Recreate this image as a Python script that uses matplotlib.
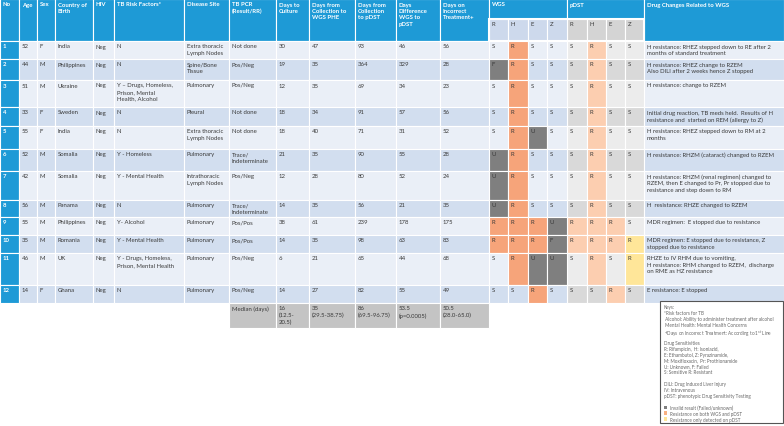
import matplotlib.pyplot as plt
from matplotlib.patches import Rectangle

plt.rcParams['font.family'] = ['Lato', 'DejaVu Sans']

# table data
headers = ["No", "Age", "Sex", "Country of\nBirth", "HIV", "TB Risk Factors*", "Disease Site",
           "TB PCR\n(Result/RR)", "Days to\nCulture", "Days from\nCollection to\nWGS PHE",
           "Days from\nCollection\nto pDST", "Days\nDifference\nWGS to\npDST",
           "Days on\nIncorrect\nTreatment+"]
drugs = ["R", "H", "E", "Z"]
ages = [52, 44, 51, 33, 55, 52, 42, 56, 55, 35, 46, 14]
sexes = ["F", "M", "M", "F", "F", "M", "M", "M", "M", "M", "M", "F"]
countries = ["India", "Philippines", "Ukraine", "Sweden", "India", "Somalia", "Somalia",
             "Panama", "Philippines", "Romania", "UK", "Ghana"]
hiv = ["Neg"] * 12
risk = ["N", "N", "Y \u2013 Drugs, Homeless,\nPrison, Mental\nHealth, Alcohol", "N", "N",
        "Y - Homeless", "Y - Mental Health", "N", "Y- Alcohol", "Y - Mental Health",
        "Y - Drugs, Homeless,\nPrison, Mental Health", "N"]
sites = ["Extra thoracic\nLymph Nodes", "Spine/Bone\nTissue", "Pulmonary", "Pleural",
         "Extra thoracic\nLymph Nodes", "Pulmonary", "Intrathoracic\nLymph Nodes",
         "Pulmonary", "Pulmonary", "Pulmonary", "Pulmonary", "Pulmonary"]
pcr = ["Not done", "Pos/Neg", "Pos/Neg", "Not done", "Not done", "Trace/\nIndeterminate",
       "Pos/Neg", "Trace/\nIndeterminate", "Pos/Pos", "Pos/Pos", "Pos/Neg", "Pos/Neg"]
days_culture = [30, 19, 12, 18, 18, 21, 12, 14, 38, 14, 6, 14]
days_wgs = [47, 35, 35, 34, 40, 35, 28, 35, 61, 35, 21, 27]
days_pdst = [93, 364, 69, 91, 71, 90, 80, 56, 239, 98, 65, 82]
days_diff = [46, 329, 34, 57, 31, 55, 52, 21, 178, 63, 44, 55]
days_incorrect = [56, 28, 23, 56, 52, 28, 24, 35, 175, 83, 68, 49]
wgs = ["SRSS", "FRSS", "SRSS", "SRSS", "SRUS", "URSS", "URSS", "URSS", "RRRU", "RRRF", "SRUU", "SSRS"]
pdst = ["SRSS", "SRSS", "SRSS", "SRSS", "SRSS", "SRSS", "SRSS", "SRSS", "RRRS", "RRRR", "SRSR", "SSRS"]
changes = [
    "H resistance: RHEZ stepped down to RE after 2\nmonths of standard treatment",
    "H resistance: RHEZ change to RZEM\nAlso DILI after 2 weeks hence Z stopped",
    "H resistance: change to RZEM",
    "Initial drug reaction, TB meds held.  Results of H\nresistance and  started on REM (allergy to Z)",
    "H resistance: RHEZ stepped down to RM at 2\nmonths",
    "H resistance: RHZM (cataract) changed to RZEM",
    "H resistance: RHZM (renal regimen) changed to\nRZEM, then E changed to Pr, Pr stopped due to\nresistance and step down to RM",
    "H  resistance: RHZE changed to RZEM",
    "MDR regimen:  E stopped due to resistance",
    "MDR regimen: E stopped due to resistance, Z\nstopped due to resistance",
    "RHZE to IV RHM due to vomiting,\nH resistance: RHM changed to RZEM,  discharge\non RME as HZ resistance",
    "E resistance: E stopped",
]
median_label = "Median (days)"
medians = ["16\n(12.5-\n20.5)", "35\n(29.5-38.75)", "86\n(69.5-96.75)", "53.5\n(p=0.0005)", "50.5\n(28.0-65.0)"]
key_lines = ["Keys:", "*Risk factors for TB",
             " Alcohol: Ability to administer treatment after alcohol",
             " Mental Health: Mental Health Concerns",
             "+Days on Incorrect Treatment: According to 1$^{st}$ Line", "",
             "Drug Sensitivities", "R: Rifampicin,  H: Isoniazid,",
             "E: Ethambutol, Z: Pyrazinamide,", "M: Moxifloxacin,  Pr: Prothionamide",
             "U: Unknown, F: Failed", "S: Sensitive R: Resistant", "",
             "DILI: Drug Induced Liver Injury", "IV: Intravenous",
             "pDST: phenotypic Drug Sensitivity Testing", ""]
key_colors = ["Invalid result (Failed/unknown)", "Resistance on both WGS and pDST",
              "Resistance only detected on pDST"]

# layout
col_x = [0, 19, 37, 55, 93, 114, 184, 229, 276, 309, 355, 396, 440, 489,
         508, 528, 547, 567, 587, 606, 625, 644, 784]
row_y = [42, 60, 81, 108, 127, 150, 172, 201, 218, 236, 254, 286, 304, 329]
BLUE = '#1e9ad6'
ROW = ['#eaeff7', '#d2deef']
PD = ['#ececec', '#d9d9d9']
GRAY = '#7f7f7f'
OR_W = '#f6a47a'
OR_P = '#fcceb0'
YEL = '#ffe699'
TXT = '#3a3a3a'
FS = 4.3

fig = plt.figure(figsize=(7.84, 4.27), dpi=100)
ax = fig.add_axes([0, 0, 1, 1])
ax.set_xlim(0, 784)
ax.set_ylim(427, 0)
ax.axis('off')


def cell(x0, x1, y0, y1, fc, text=None, color=TXT, bold=False, lw=0.8):
    ax.add_patch(Rectangle((x0, y0), x1 - x0, y1 - y0, facecolor=fc, edgecolor='white', lw=lw))
    if text is not None:
        ax.text(x0 + 3, y0 + 2.5, str(text), fontsize=FS, color=color, va='top', ha='left',
                fontweight='bold' if bold else 'normal', linespacing=1.35)


# header
for j, h in enumerate(headers):
    cell(col_x[j], col_x[j + 1], 0, row_y[0], BLUE, h, 'white', True)
cell(col_x[13], col_x[17], 0, 20, BLUE, "WGS", 'white', True)
cell(col_x[17], col_x[21], 0, 20, BLUE, "pDST", 'white', True)
for k in range(4):
    cell(col_x[13 + k], col_x[14 + k], 20, row_y[0], '#cdd9ec', drugs[k])
    cell(col_x[17 + k], col_x[18 + k], 20, row_y[0], '#d4d4d4', drugs[k])
cell(col_x[21], col_x[22], 0, row_y[0], BLUE, "Drug Changes Related to WGS", 'white', True)
ax.add_patch(Rectangle((col_x[13], 20), col_x[21] - col_x[13], row_y[0] - 20,
                       fill=False, edgecolor='white', lw=1.5))

# body
for i in range(12):
    y0, y1 = row_y[i], row_y[i + 1]
    bg = ROW[i % 2]
    vals = [ages[i], sexes[i], countries[i], hiv[i], risk[i], sites[i], pcr[i],
            days_culture[i], days_wgs[i], days_pdst[i], days_diff[i], days_incorrect[i]]
    cell(col_x[0], col_x[1], y0, y1, BLUE, i + 1, 'white', True)
    for j, v in enumerate(vals):
        cell(col_x[j + 1], col_x[j + 2], y0, y1, bg, v)
    for k in range(4):
        w, p = wgs[i][k], pdst[i][k]
        fw = OR_W if w == 'R' else (GRAY if w in 'UF' else bg)
        fp = (OR_P if w == 'R' else YEL) if p == 'R' else PD[i % 2]
        cell(col_x[13 + k], col_x[14 + k], y0, y1, fw, w)
        cell(col_x[17 + k], col_x[18 + k], y0, y1, fp, p)
    cell(col_x[21], col_x[22], y0, y1, bg, changes[i])

# median row
y0, y1 = row_y[12], row_y[13]
cell(col_x[7], col_x[8], y0, y1, '#c4c4c4', median_label)
for j, m in enumerate(medians):
    cell(col_x[8 + j], col_x[9 + j], y0, y1, '#c4c4c4', m)

# key box
ax.add_patch(Rectangle((660, 302), 123, 122, facecolor='white', edgecolor='#555555', lw=0.8))
ky = 305.5
for line in key_lines:
    ax.text(664, ky, line, fontsize=3.3, color='#666666', va='top', ha='left')
    ky += 5.9
for c, line in zip([GRAY, '#f8b183', YEL], key_colors):
    ax.add_patch(Rectangle((664, ky + 0.8), 3.5, 3.5, facecolor=c, edgecolor='none'))
    ax.text(670, ky, line, fontsize=3.3, color='#666666', va='top', ha='left')
    ky += 5.9

fig.savefig('out.png', dpi=100)
